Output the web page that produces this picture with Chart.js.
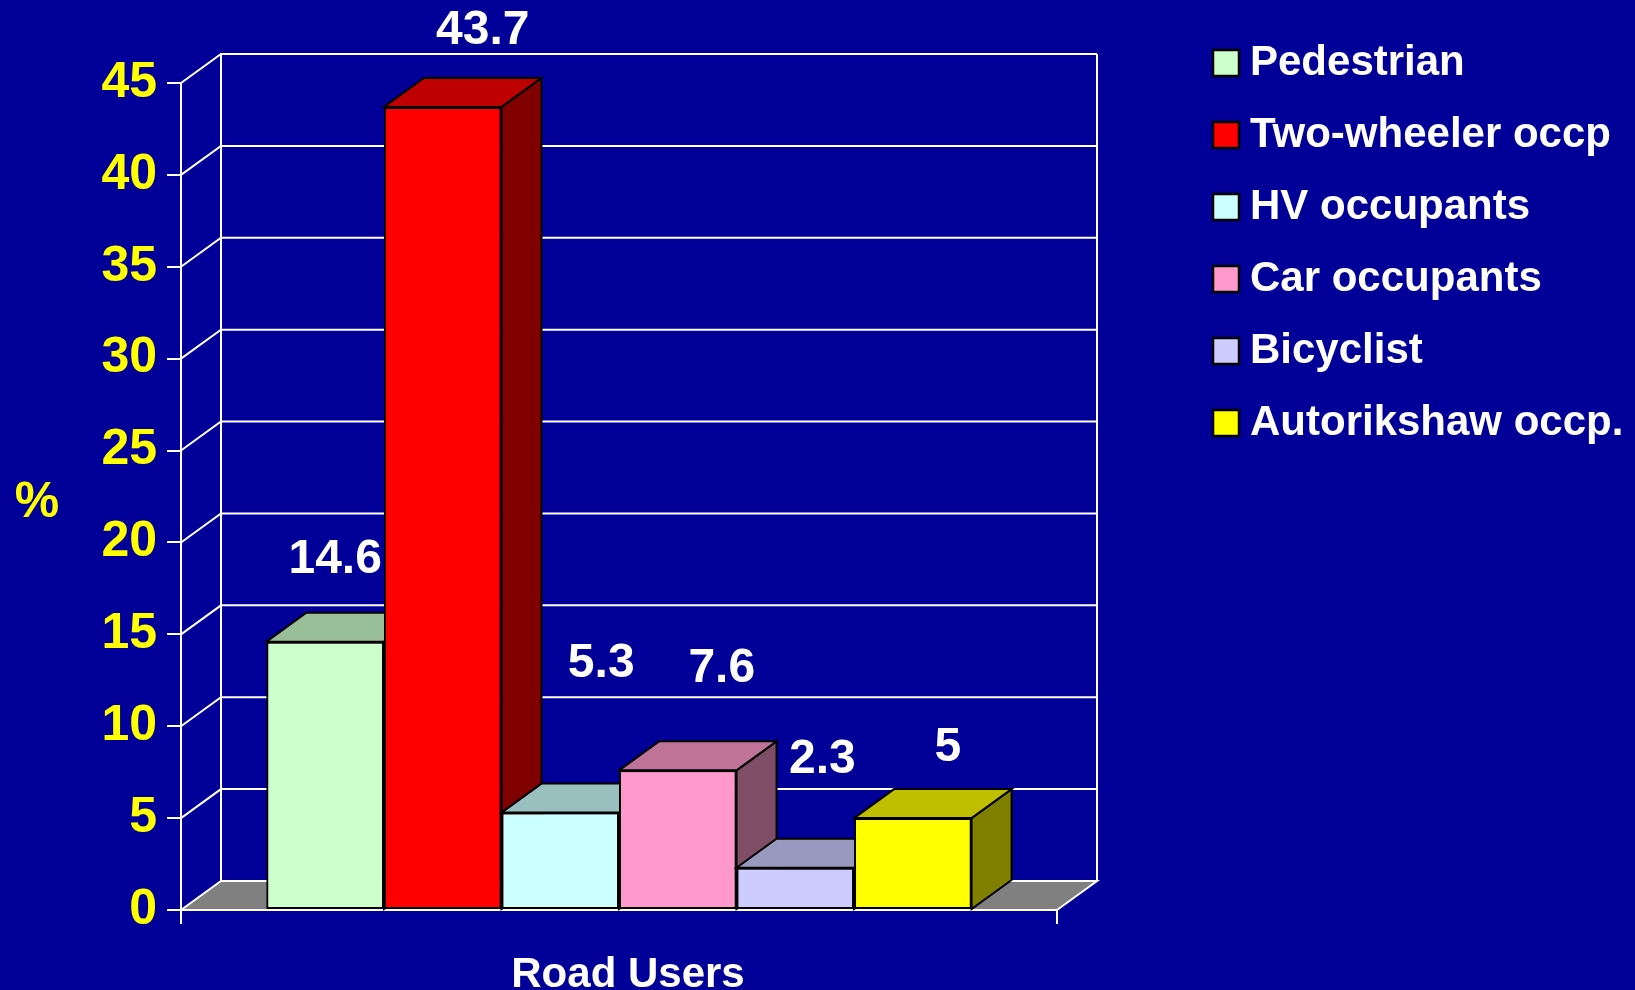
<!DOCTYPE html>
<html><head><meta charset="utf-8">
<script src="https://cdn.jsdelivr.net/npm/chart.js@4/dist/chart.umd.min.js"></script>
<style>html,body{margin:0;padding:0;background:#000099;overflow:hidden}canvas{display:block}</style>
</head><body>
<canvas id="c" width="1635" height="990"></canvas>
<script>
// ---- data ----
const categories = ['Road Users'];
const seriesNames = ['Pedestrian', 'Two-wheeler occp', 'HV occupants', 'Car occupants', 'Bicyclist', 'Autorikshaw occp.'];
const seriesValues = [14.6, 43.7, 5.3, 7.6, 2.3, 5];
const yMin = 0, yMax = 45, yStep = 5;
const yAxisLabel = '%';
const xAxisLabel = 'Road Users';

// ---- styles ----
const frontColors = ['#CCFFCC', '#FF0000', '#CCFFFF', '#FF99CC', '#CCCCFF', '#FFFF00'];
const topColors   = ['#99BF99', '#BF0000', '#99BFBF', '#BF7399', '#9999BF', '#BFBF00'];
const sideColors  = ['#668066', '#800000', '#668080', '#804D66', '#666680', '#808000'];
const labelShift  = [[10, -82], [40, -76], [41, -149], [44, -102], [27, -108], [35, -70]];
const DX = 40, DY = 29;
const FONT = "'Liberation Sans', Arial, Helvetica, sans-serif";
Chart.defaults.font.family = FONT;

const walls = {
  id: 'walls',
  beforeDraw(chart) {
    const {ctx, chartArea: a, scales: {y}} = chart;
    ctx.save();
    ctx.fillStyle = '#000099';
    ctx.fillRect(0, 0, chart.width, chart.height);
    ctx.strokeStyle = '#FFFFFF';
    ctx.lineWidth = 2;
    for (let v = yMin + yStep; v <= yMax; v += yStep) {
      const py = y.getPixelForValue(v);
      ctx.beginPath();
      ctx.moveTo(a.left, py);
      ctx.lineTo(a.left + DX, py - DY);
      ctx.lineTo(a.right + DX, py - DY);
      ctx.stroke();
    }
    const top = y.getPixelForValue(yMax) - DY, bot = y.getPixelForValue(yMin) - DY;
    ctx.beginPath();
    ctx.moveTo(a.left + DX, top); ctx.lineTo(a.left + DX, bot);
    ctx.moveTo(a.right + DX, top); ctx.lineTo(a.right + DX, bot);
    ctx.stroke();
    // floor
    const y0 = y.getPixelForValue(yMin);
    ctx.fillStyle = '#808080';
    ctx.beginPath();
    ctx.moveTo(a.left, y0); ctx.lineTo(a.right, y0);
    ctx.lineTo(a.right + DX, y0 - DY); ctx.lineTo(a.left + DX, y0 - DY);
    ctx.closePath(); ctx.fill();
    ctx.beginPath();
    ctx.moveTo(a.left, y0); ctx.lineTo(a.left + DX, y0 - DY);
    ctx.lineTo(a.right + DX, y0 - DY); ctx.lineTo(a.right, y0);
    ctx.stroke();
    ctx.restore();
  },
  afterDatasetsDraw(chart) {
    const ctx = chart.ctx;
    // 3D faces, drawn left to right; the library's own bar element redraws each front face
    chart.data.datasets.forEach((ds, i) => {
      const bar = chart.getDatasetMeta(i).data[0];
      if (!bar) return;
      const {x, y, base, width} = bar.getProps(['x', 'y', 'base', 'width'], true);
      const l = x - width / 2, r = x + width / 2;
      ctx.save();
      ctx.lineWidth = 2;
      ctx.strokeStyle = '#000';
      ctx.fillStyle = sideColors[i];
      ctx.beginPath();
      ctx.moveTo(r, y); ctx.lineTo(r + DX, y - DY); ctx.lineTo(r + DX, base - DY); ctx.lineTo(r, base);
      ctx.closePath(); ctx.fill(); ctx.stroke();
      ctx.fillStyle = topColors[i];
      ctx.beginPath();
      ctx.moveTo(l, y); ctx.lineTo(l + DX, y - DY); ctx.lineTo(r + DX, y - DY); ctx.lineTo(r, y);
      ctx.closePath(); ctx.fill(); ctx.stroke();
      ctx.restore();
      bar.draw(ctx, chart.chartArea);
    });
    // value labels
    ctx.save();
    ctx.fillStyle = '#FFFFFF';
    ctx.font = 'bold 48px ' + FONT;
    ctx.textAlign = 'center';
    ctx.textBaseline = 'middle';
    chart.data.datasets.forEach((ds, i) => {
      const bar = chart.getDatasetMeta(i).data[0];
      const {x, y} = bar.getProps(['x', 'y'], true);
      ctx.fillText(String(ds.data[0]), x + labelShift[i][0], y + labelShift[i][1]);
    });
    ctx.restore();
  },
  afterDraw(chart) {
    const ctx = chart.ctx;
    ctx.save();
    ctx.fillStyle = '#FFFF00';
    ctx.font = 'bold 50px ' + FONT;
    ctx.textAlign = 'center';
    ctx.textBaseline = 'middle';
    ctx.fillText(yAxisLabel, 37, 503);
    ctx.fillStyle = '#FFFFFF';
    ctx.font = 'bold 42px ' + FONT;
    ctx.fillText(xAxisLabel, 628, 975);
    ctx.textAlign = 'left';
    ctx.textBaseline = 'alphabetic';
    chart.data.datasets.forEach((ds, i) => {
      const cy = 63 + i * 72;
      ctx.fillStyle = frontColors[i];
      ctx.fillRect(1213, cy - 13, 26, 26);
      ctx.strokeStyle = '#000';
      ctx.lineWidth = 2.5;
      ctx.strokeRect(1213, cy - 13, 26, 26);
      ctx.fillStyle = '#FFFFFF';
      ctx.fillText(ds.label, 1250, 75 + i * 72);
    });
    ctx.restore();
  }
};

const datasets = seriesNames.map((name, i) => ({
  label: name,
  data: [seriesValues[i]],
  backgroundColor: frontColors[i],
  borderColor: '#000000',
  borderWidth: 2,
  borderSkipped: false,
  categoryPercentage: 0.805,
  barPercentage: 1.0
}));

new Chart(document.getElementById('c'), {
  type: 'bar',
  data: {labels: categories, datasets},
  options: {
    responsive: false,
    animation: false,
    devicePixelRatio: 1,
    layout: {padding: {top: 83, right: 578, bottom: 0, left: 0}},
    plugins: {legend: {display: false}, tooltip: {enabled: false}},
    scales: {
      x: {
        offset: true,
        grid: {display: true, drawOnChartArea: false, drawTicks: true, tickLength: 14, color: '#FFFFFF', lineWidth: 2, offset: true},
        border: {display: true, color: '#FFFFFF', width: 2},
        ticks: {display: false},
        title: {display: false},
        afterFit(s) { s.height = 80; }
      },
      y: {
        min: yMin, max: yMax,
        ticks: {stepSize: yStep, color: '#FFFF00', font: {size: 50, weight: 'bold'}, padding: 10},
        grid: {drawOnChartArea: false, drawTicks: true, tickLength: 14, color: '#FFFFFF', lineWidth: 2},
        border: {display: true, color: '#FFFFFF', width: 2},
        afterFit(s) { s.width = 181; }
      }
    }
  },
  plugins: [walls]
});
</script>
</body></html>
